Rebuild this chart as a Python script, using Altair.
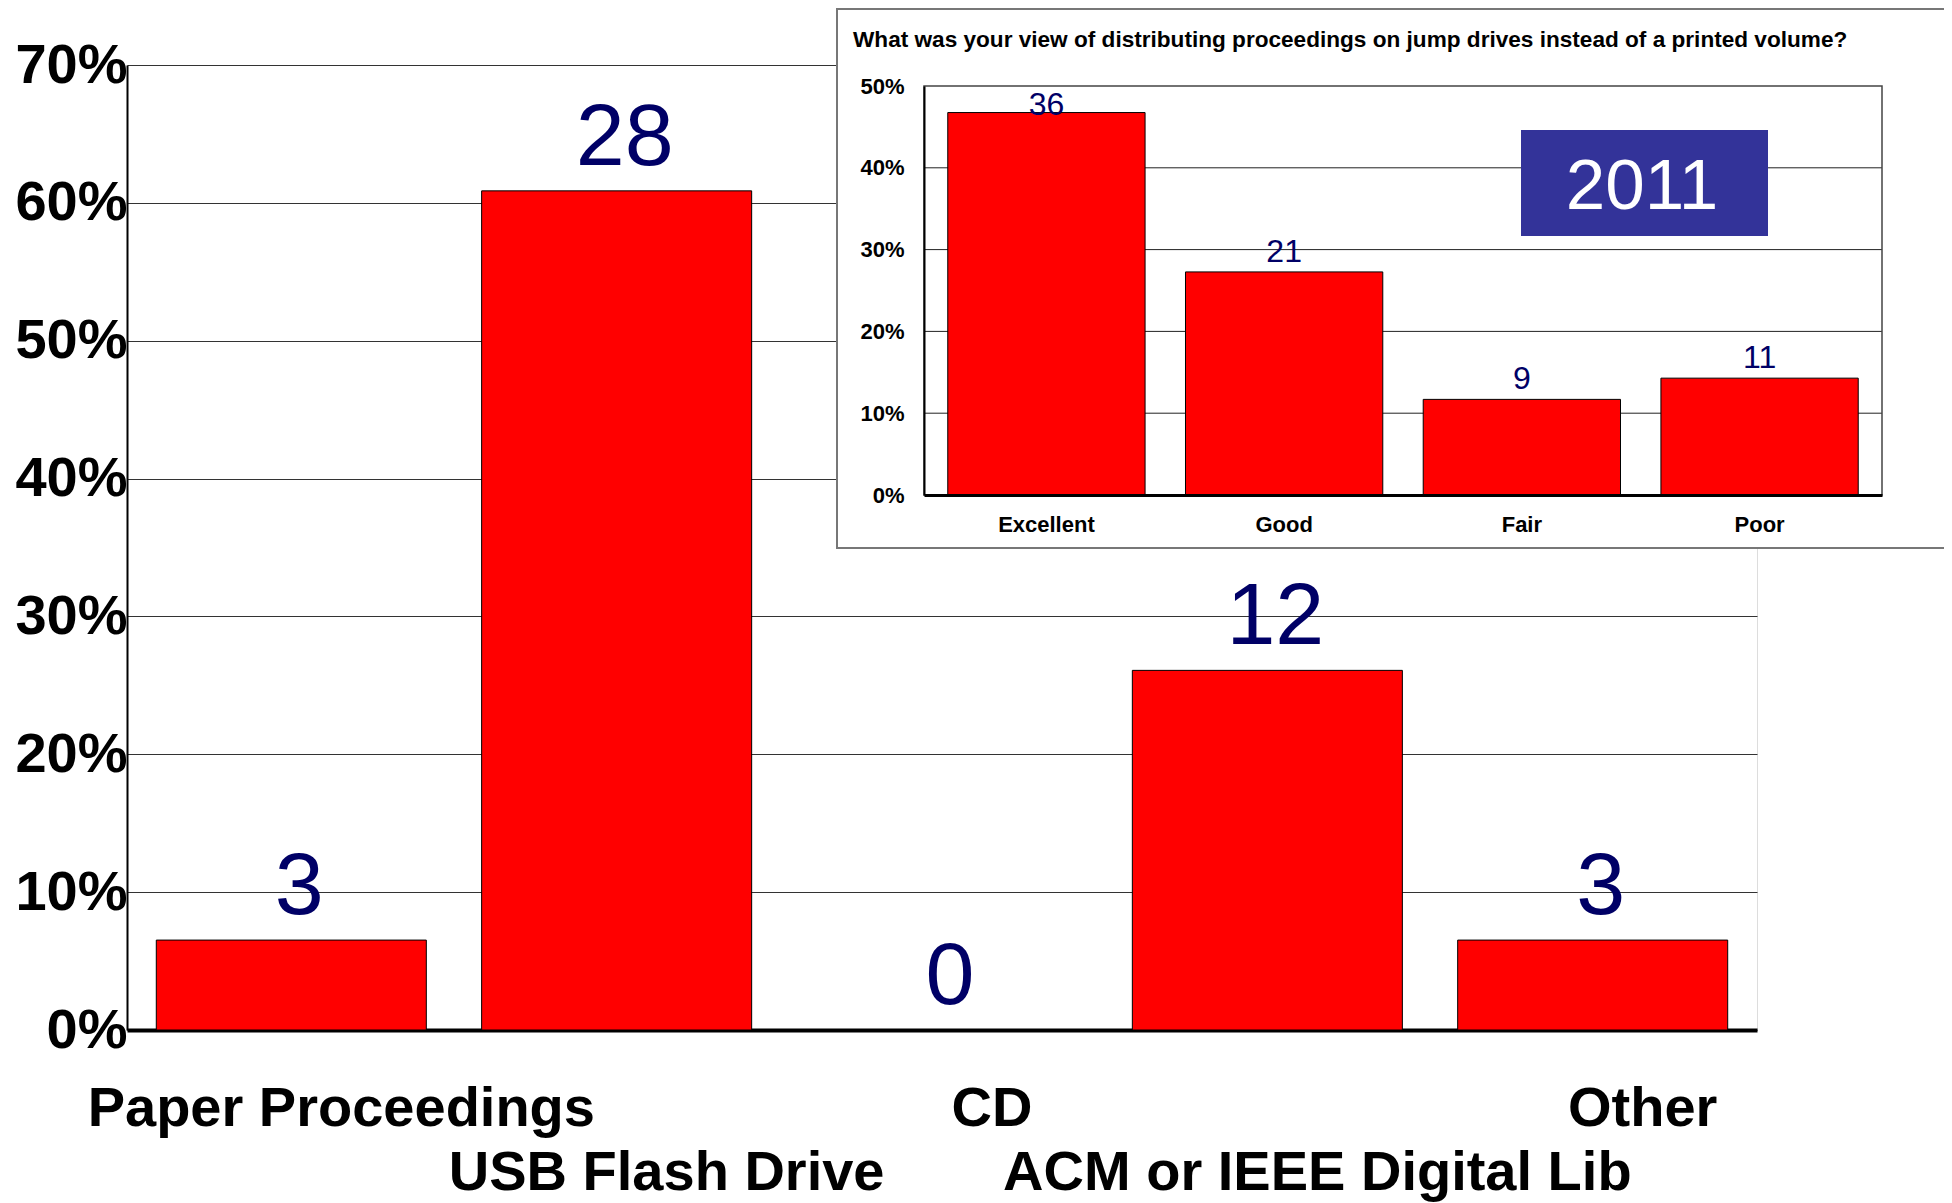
import altair as alt
import pandas as pd

# ---------------- data ----------------
main_categories = ["Paper Proceedings", "USB Flash Drive", "CD", "ACM or IEEE Digital Lib", "Other"]
main_counts = [3, 28, 0, 12, 3]
main_ticks = [0, 0.1, 0.2, 0.3, 0.4, 0.5, 0.6, 0.7]
second_row_labels = ["USB Flash Drive", "ACM or IEEE Digital Lib"]

inset_title = "What was your view of distributing proceedings on jump drives instead of a printed volume?"
inset_categories = ["Excellent", "Good", "Fair", "Poor"]
inset_counts = [36, 21, 9, 11]
inset_ticks = [0, 0.1, 0.2, 0.3, 0.4, 0.5]
inset_grid = [0.1, 0.2, 0.3, 0.4]
year_label = "2011"

FONT = "Liberation Sans"
RED = "#FF0000"
NAVY = "#000066"

main_df = pd.DataFrame({"cat": main_categories, "count": main_counts})
inset_df = pd.DataFrame({"cat": inset_categories, "count": inset_counts})
grid_df = pd.DataFrame({"v": inset_grid})
title_df = pd.DataFrame({"t": [inset_title]})
year_df = pd.DataFrame({"t": [year_label]})
one_df = pd.DataFrame({"k": [0]})

# ---------------- geometry (plot-area pixels) ----------------
W, H = 1630, 965
IX0, IX1 = 797, 1755     # inset plot x range
IY0, IY1 = 430, 21       # inset plot y range (0% -> 50%)

# ---------------- main chart ----------------
main_x_axis = alt.Axis(
    orient="bottom", title=None, ticks=False, domainColor="black", domainWidth=4,
    labelFont=FONT, labelFontSize=56, labelFontWeight="bold", labelColor="black",
    labelPadding=51, labelLineHeight=64, labelLimit=3000, labelOverlap=False,
    labelOffset=50, labelAngle=0,
    labelExpr="indexof(" + str(second_row_labels) + ", datum.value) >= 0 ? ['', datum.value] : datum.value",
)
main_y_axis = alt.Axis(
    orient="left", title=None, values=main_ticks, format=".0%", ticks=False,
    grid=True, gridColor="#333333", gridWidth=1, gridOpacity=1,
    domainColor="black", domainWidth=2,
    labelFont=FONT, labelFontSize=56, labelFontWeight="bold", labelColor="black",
    labelPadding=0, labelLimit=1000, labelOverlap=False,
)
main_x = alt.X("cat:N", sort=main_categories,
               scale=alt.Scale(paddingInner=0.17, paddingOuter=0.09), axis=main_x_axis)
main_y = alt.Y("pct:Q", scale=alt.Scale(domain=[0, 0.7], nice=False), axis=main_y_axis)

main_base = alt.Chart(main_df).transform_joinaggregate(
    total="sum(count)"
).transform_calculate(pct="datum.count / datum.total")

main_bars = main_base.mark_bar(color=RED, stroke="black", strokeWidth=1).encode(x=main_x, y=main_y)
main_text = main_base.mark_text(font=FONT, fontSize=88, color=NAVY, baseline="alphabetic",
                                dy=-26, dx=8).encode(x=main_x, y=main_y, text="count:Q")
main_layer = alt.layer(main_bars, main_text)

# ---------------- inset panel ----------------
inset_box = alt.Chart(one_df).mark_rect(fill="white", stroke="#777777", strokeWidth=2).encode(
    x=alt.value(710), x2=alt.value(1840), y=alt.value(-56), y2=alt.value(483))
inset_title_mark = alt.Chart(title_df).mark_text(
    font=FONT, fontSize=22.6, fontWeight="bold", align="left", baseline="middle", color="black"
).encode(x=alt.value(726), y=alt.value(-25), text="t:N")

inset_grid_rules = alt.Chart(grid_df).mark_rule(color="#222222", strokeWidth=1).encode(
    y=alt.Y("v:Q", scale=alt.Scale(domain=[0, 0.5], range=[IY0, IY1], nice=False), axis=None),
    x=alt.value(IX0), x2=alt.value(IX1))
inset_frame = alt.Chart(one_df).mark_rect(filled=False, stroke="#444444", strokeWidth=1.5).encode(
    x=alt.value(IX0), x2=alt.value(IX1), y=alt.value(IY1), y2=alt.value(IY0))

inset_x_axis = alt.Axis(
    orient="bottom", offset=IY0 - H, title=None, ticks=False, domainColor="black", domainWidth=3,
    labelFont=FONT, labelFontSize=22, labelFontWeight="bold", labelColor="black",
    labelPadding=19, labelAngle=0, labelLimit=500, zindex=1)
inset_y_axis = alt.Axis(
    orient="left", offset=-IX0, title=None, values=inset_ticks, format=".0%", ticks=False,
    grid=False, domainColor="black", domainWidth=2,
    labelFont=FONT, labelFontSize=22, labelFontWeight="bold", labelColor="black",
    labelPadding=20, labelLimit=500, zindex=1)
inset_x_scale = alt.Scale(range=[IX0, IX1], paddingInner=0.17, paddingOuter=0.1)
inset_y_scale = alt.Scale(domain=[0, 0.5], range=[IY0, IY1], nice=False)

inset_base = alt.Chart(inset_df).transform_joinaggregate(
    total="sum(count)"
).transform_calculate(pct="datum.count / datum.total", ly="min(datum.count / datum.total, 0.452)")

inset_bars = inset_base.mark_bar(color=RED, stroke="black", strokeWidth=1).encode(
    x=alt.X("cat:N", sort=inset_categories, scale=inset_x_scale, axis=inset_x_axis),
    y=alt.Y("pct:Q", scale=inset_y_scale, axis=inset_y_axis))
inset_text = inset_base.mark_text(font=FONT, fontSize=32, color=NAVY, baseline="alphabetic", dy=-10).encode(
    x=alt.X("cat:N", sort=inset_categories, scale=inset_x_scale, axis=inset_x_axis),
    y=alt.Y("ly:Q", scale=inset_y_scale, axis=inset_y_axis),
    text="count:Q")
inset_layer = alt.layer(inset_bars, inset_text)

year_box = alt.Chart(one_df).mark_rect(fill="#333399").encode(
    x=alt.value(1394), x2=alt.value(1641), y=alt.value(65), y2=alt.value(171))
year_text = alt.Chart(year_df).mark_text(
    font=FONT, fontSize=71, color="white", align="center", baseline="alphabetic"
).encode(x=alt.value(1515), y=alt.value(144), text="t:N")

chart = alt.layer(
    main_layer, inset_box, inset_title_mark, inset_grid_rules, inset_frame,
    inset_layer, year_box, year_text
).resolve_scale(x="independent", y="independent").properties(
    width=W, height=H,
    autosize=alt.AutoSizeParams(type="none"),
    padding={"left": 119, "top": 57, "right": 187, "bottom": 173},
).configure_view(stroke="#888888", strokeWidth=1.5).configure(background="white")

chart.save("out.html", embed_options={"renderer": "svg", "actions": False})
